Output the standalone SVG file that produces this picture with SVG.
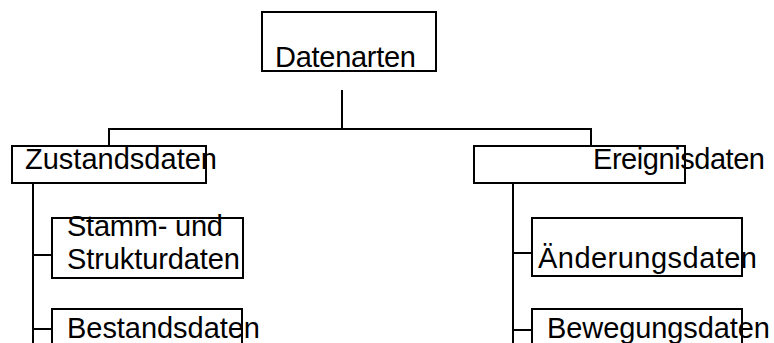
<svg xmlns="http://www.w3.org/2000/svg" width="774" height="343" viewBox="0 0 774 343">
  <style>
    .box { fill: none; stroke: #000; stroke-width: 2; }
    .lbl { font-family: "Liberation Sans", Arial, sans-serif; font-size: 29px; fill: #000; }
    .wire { fill: none; stroke: #000; stroke-width: 2; }
  </style>
  <rect width="774" height="343" fill="#fff"/>

  <!-- tree connectors -->
  <g id="connectors">
    <path class="wire" d="M342 90 V129"/>
    <path class="wire" d="M109 147 V129 H591 V147"/>
    <path class="wire" d="M33 183 V343"/>
    <path class="wire" d="M33 255 H52"/>
    <path class="wire" d="M33 329 H52"/>
    <path class="wire" d="M513 183 V343"/>
    <path class="wire" d="M513 253 H532"/>
    <path class="wire" d="M513 330 H532"/>
  </g>

  <g id="datenarten">
    <text class="lbl" x="275" y="67" textLength="141" lengthAdjust="spacing">Datenarten</text>
    <rect class="box" x="262" y="12" width="174" height="59"/>
  </g>

  <g id="zustandsdaten">
    <text class="lbl" x="25" y="169" textLength="192" lengthAdjust="spacing">Zustandsdaten</text>
    <rect class="box" x="12" y="146" width="194" height="37"/>
  </g>

  <g id="ereignisdaten">
    <text class="lbl" x="593" y="169" textLength="172" lengthAdjust="spacing">Ereignisdaten</text>
    <rect class="box" x="474" y="146" width="211" height="37"/>
  </g>

  <g id="stammdaten">
    <text class="lbl" x="67" y="236" textLength="156" lengthAdjust="spacing">Stamm- und</text>
    <text class="lbl" x="67" y="269" textLength="173" lengthAdjust="spacing">Strukturdaten</text>
    <rect class="box" x="52" y="218" width="191" height="60"/>
  </g>

  <g id="bestandsdaten">
    <text class="lbl" x="67" y="338" textLength="193" lengthAdjust="spacing">Bestandsdaten</text>
    <rect class="box" x="52" y="309" width="190" height="60"/>
  </g>

  <g id="aenderungsdaten">
    <text class="lbl" x="538" y="268" textLength="219" lengthAdjust="spacing">Änderungsdaten</text>
    <rect class="box" x="532" y="218" width="210" height="58"/>
  </g>

  <g id="bewegungsdaten">
    <text class="lbl" x="547" y="338" textLength="223" lengthAdjust="spacing">Bewegungsdaten</text>
    <rect class="box" x="532" y="309" width="210" height="60"/>
  </g>
</svg>
